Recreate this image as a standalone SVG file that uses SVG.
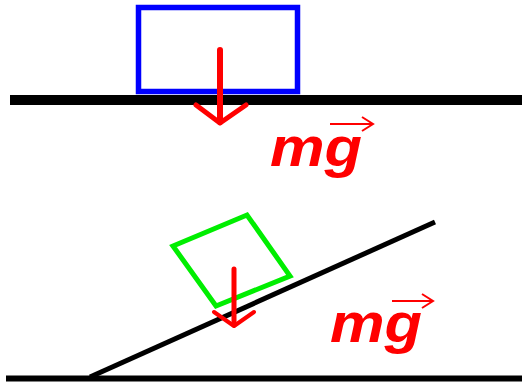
<svg xmlns="http://www.w3.org/2000/svg" width="522" height="384" viewBox="0 0 522 384">
<style>
.ground{stroke:#000;fill:none}
.force{stroke:#ff0000;fill:none;stroke-linecap:round;stroke-linejoin:round}
.lbl{font-family:"Liberation Sans",Arial,sans-serif;font-weight:bold;font-style:italic;font-size:56px;fill:#ff0000}
.vec{stroke:#ff0000;stroke-width:2;fill:none}
</style>
<rect width="522" height="384" fill="#fff"/>
<g id="ground-top"><line class="ground" x1="10" y1="100" x2="522" y2="100" stroke-width="10"/></g>
<g id="ground-bottom">
<line class="ground" x1="6" y1="378.5" x2="522" y2="378.5" stroke-width="6"/>
<line class="ground" x1="90" y1="377" x2="435" y2="222" stroke-width="5"/>
</g>
<g id="block-blue"><rect x="138.5" y="7.5" width="159" height="84" fill="none" stroke="#0000ff" stroke-width="5.5"/></g>
<g id="block-green"><polygon points="173,246 247,215 290,276 216,306" fill="none" stroke="#00ee00" stroke-width="5"/></g>
<g id="connectors">
<g id="force-top">
<line class="force" x1="220" y1="50" x2="220" y2="122" stroke-width="6"/>
<polyline class="force" points="196,105 220,123 246,105" stroke-width="5"/>
</g>
<g id="force-bottom">
<line class="force" x1="234" y1="269" x2="234" y2="325" stroke-width="5"/>
<polyline class="force" points="214,312 234,326 254,312" stroke-width="4"/>
</g>
</g>
<g id="label-top">
<text class="lbl" x="270" y="166" textLength="92" lengthAdjust="spacingAndGlyphs">mg</text>
<line class="vec" x1="330" y1="124" x2="372" y2="124"/>
<polyline class="vec" points="362,117 373,124 362,131"/>
</g>
<g id="label-bottom">
<text class="lbl" x="330" y="342" textLength="92" lengthAdjust="spacingAndGlyphs">mg</text>
<line class="vec" x1="392" y1="301" x2="432" y2="301"/>
<polyline class="vec" points="422,294 433,301 422,308"/>
</g>
</svg>
